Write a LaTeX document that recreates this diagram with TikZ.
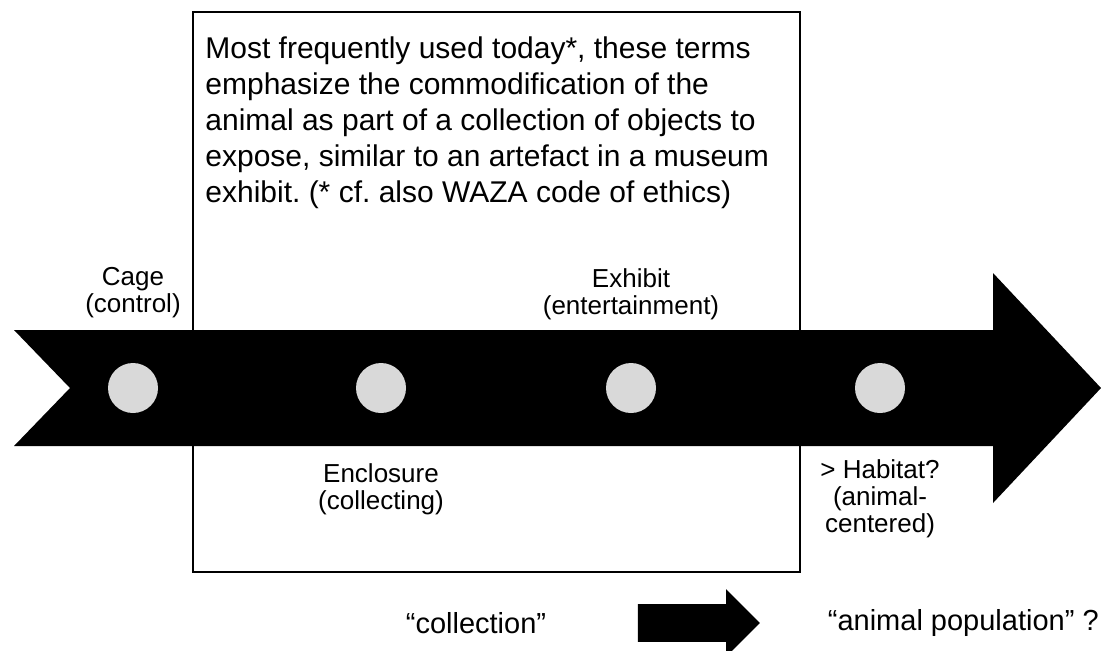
\documentclass[tikz,border=0pt]{standalone}
\usepackage{fontspec}
\setmainfont{Liberation Sans}
\usetikzlibrary{positioning, shapes.arrows}
\frenchspacing

\begin{document}
\begin{tikzpicture}[x=0.5pt, y=-0.5pt,
        stage/.style={circle, fill=black!15, minimum size=25pt, inner sep=0pt},
        lbl/.style={font=\fontsize{13}{13.5}\selectfont, align=center, inner sep=0pt},
        note/.style={font=\fontsize{15}{18}\selectfont, align=left, inner sep=0pt},
        term/.style={font=\fontsize{14.5}{16}\selectfont, inner sep=0pt},
        blockarrow/.style={single arrow, fill=black, inner xsep=0pt, inner ysep=9.25pt, minimum height=61pt, single arrow head extend=7.5pt},
    ]
    \useasboundingbox (0,0) rectangle (1101,650);
    \draw[line width=1pt] (193,12) rectangle (800,572);
    \node[note, anchor=north west] (txt) at (205,36) {Most frequently used today*, these terms\\
        emphasize the commodification of the\\
        animal as part of a collection of objects to\\
        expose, similar to an artefact in a museum\\
        exhibit. (* cf. also WAZA code of ethics)};
    % timeline
    \fill (14,330) -- (993,330) -- (993,273) -- (1101,388) -- (993,503) -- (993,446) -- (14,446) -- (70,388) -- cycle;
    \node[stage] (Cg) at (133,388) {};
    \node[stage] (En) at (381,388) {};
    \node[stage] (Ex) at (631,388) {};
    \node[stage] (Hb) at (880,388) {};
    \node[lbl, above=22pt of Cg] (CgL) {Cage\\(control)};
    \node[lbl, above=21pt of Ex] (ExL) {Exhibit\\(entertainment)};
    \node[lbl, below=25pt of En] (EnL) {Enclosure\\(collecting)};
    \node[lbl, below=23pt of Hb] (HbL) {> Habitat?\\(animal-\\centered)};
    % bottom line
    \node[term] (coll) at (476,623) {“collection”};
    \node[blockarrow, right=45.5pt of coll] (arr) {};
    \node[term, right=33.5pt of arr] (pop) {“animal population” ?};
\end{tikzpicture}
\end{document}
